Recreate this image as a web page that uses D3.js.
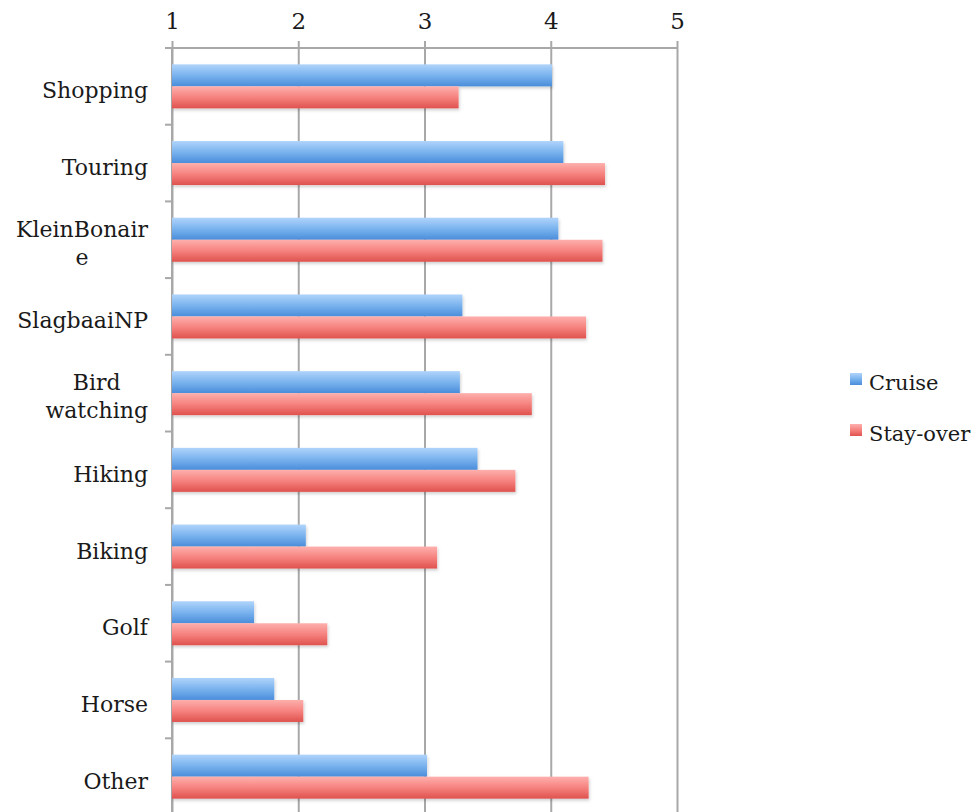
<!DOCTYPE html>
<html><head><meta charset="utf-8">
<script src="https://cdn.jsdelivr.net/npm/d3@7"></script>
<style>
html,body{margin:0;padding:0;background:#fff;overflow:hidden;}
svg{display:block;}
text{font-family:"DejaVu Serif",serif;fill:#1a1a1a;}
</style></head>
<body>
<svg id="chart" width="978" height="812"></svg>
<script>
const categories = ["Shopping","Touring","KleinBonaire","SlagbaaiNP","Bird watching","Hiking","Biking","Golf","Horse","Other"];
const categoryLines = [["Shopping"],["Touring"],["KleinBonair","e"],["SlagbaaiNP"],["Bird","watching"],["Hiking"],["Biking"],["Golf"],["Horse"],["Other"]];
const cruise   = [4.01, 4.10, 4.06, 3.30, 3.28, 3.42, 2.06, 1.65, 1.81, 3.02];
const stayover = [3.27, 4.43, 4.41, 4.28, 3.85, 3.72, 3.10, 2.23, 2.04, 4.30];
const seriesNames = ["Cruise","Stay-over"];
const xTicks = [1,2,3,4,5];

(function(){
const svg = d3.select("#chart");
const pLeft = 172, pRight = 677, pTop = 48, bandH = 76.7;
const pBottom = pTop + bandH*categories.length;

const x = d3.scaleLinear().domain([1,5]).range([pLeft,pRight]);
const y = d3.scaleBand().domain(categories).range([pTop,pBottom]).paddingInner(0).paddingOuter(0);
const barH = 22, groupOff = (bandH - 2*barH)/2;

const defs = svg.append("defs");
const gb = defs.append("linearGradient").attr("id","gBlue").attr("x1",0).attr("y1",0).attr("x2",0).attr("y2",1);
gb.append("stop").attr("offset","0%").attr("stop-color","#b0d4fb");
gb.append("stop").attr("offset","50%").attr("stop-color","#7ab3ee");
gb.append("stop").attr("offset","100%").attr("stop-color","#4a8ddb");
const gr = defs.append("linearGradient").attr("id","gRed").attr("x1",0).attr("y1",0).attr("x2",0).attr("y2",1);
gr.append("stop").attr("offset","0%").attr("stop-color","#fdb0ad");
gr.append("stop").attr("offset","50%").attr("stop-color","#f6827f");
gr.append("stop").attr("offset","100%").attr("stop-color","#df524e");
const sh = defs.append("filter").attr("id","shadow").attr("x","-5%").attr("y","-20%").attr("width","115%").attr("height","160%");
sh.append("feDropShadow").attr("dx",1).attr("dy",2).attr("stdDeviation",1.5).attr("flood-color","#000").attr("flood-opacity",0.18);

const gridColor = "#a8a8a8";
const xAxis = d3.axisTop(x).tickValues(xTicks).tickSize(-(pBottom-pTop)).tickSizeOuter(0).tickPadding(0).tickFormat(d3.format("d"));
const gx = svg.append("g").attr("transform",`translate(0,${pTop})`).call(xAxis);
gx.select(".domain").remove();
gx.selectAll(".tick line").attr("stroke",gridColor).attr("stroke-width",2).attr("y1",-7);
gx.selectAll(".tick text").attr("y",-19).attr("dy",0).style("font-size","23px").style("font-family","DejaVu Serif, serif").attr("fill","#1a1a1a");
svg.append("line").attr("x1",pLeft-7).attr("x2",pRight).attr("y1",pTop).attr("y2",pTop).attr("stroke",gridColor).attr("stroke-width",2);

const yAxis = d3.axisLeft(y).tickSize(0).tickFormat("");
const gy = svg.append("g").attr("transform",`translate(${pLeft},0)`).call(yAxis);
gy.select(".domain").attr("stroke",gridColor).attr("stroke-width",2).attr("d",`M0,${pTop}V${pBottom}`);
svg.append("g").selectAll("line").data(d3.range(categories.length+1)).join("line")
  .attr("x1",pLeft-7).attr("x2",pLeft).attr("y1",i=>pTop+i*bandH).attr("y2",i=>pTop+i*bandH)
  .attr("stroke",gridColor).attr("stroke-width",2);

const bars = svg.append("g").attr("filter","url(#shadow)");
categories.forEach((c,i)=>{
  const y0 = y(c) + groupOff;
  bars.append("rect").attr("x",x(1)).attr("y",y0).attr("width",x(cruise[i])-x(1)).attr("height",barH).attr("fill","url(#gBlue)");
  bars.append("rect").attr("x",x(1)).attr("y",y0+barH).attr("width",x(stayover[i])-x(1)).attr("height",barH).attr("fill","url(#gRed)");
});

const labelRight = 148;
const lg = svg.append("g");
categories.forEach((c,i)=>{
  const lines = categoryLines[i];
  const cy = y(c) + bandH/2;
  if(lines.length===1){
    lg.append("text").attr("x",labelRight).attr("y",cy+12).attr("text-anchor","end").style("font-size","22px").text(lines[0]);
  } else {
    const tmp = lines.map((l,k)=>lg.append("text").attr("y",cy-3+k*28).style("font-size","22px").attr("text-anchor","middle").text(l));
    const w = d3.max(tmp,t=>t.node().getComputedTextLength());
    tmp.forEach(t=>t.attr("x",labelRight - w/2));
  }
});

const leg = svg.append("g");
const legItems = [{name:seriesNames[0],fill:"url(#gBlue)",y:390},{name:seriesNames[1],fill:"url(#gRed)",y:441}];
legItems.forEach(d=>{
  leg.append("rect").attr("x",850).attr("y",d.y-17).attr("width",12).attr("height",12).attr("fill",d.fill);
  leg.append("text").attr("x",869).attr("y",d.y).style("font-size","21px").text(d.name);
});
})();
</script>
</body></html>
